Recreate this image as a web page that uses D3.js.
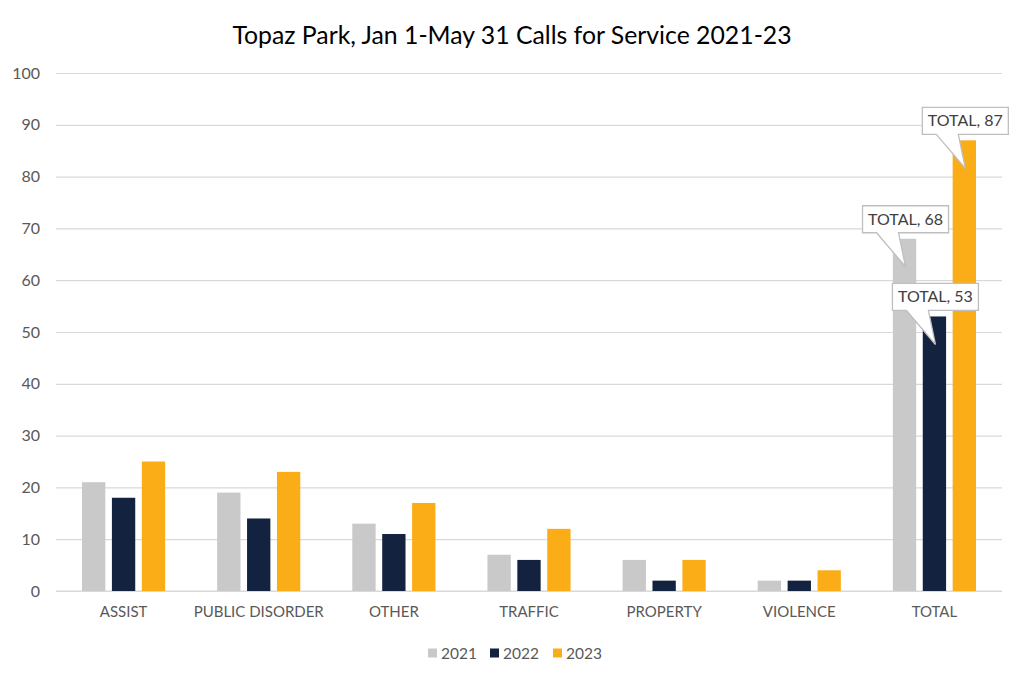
<!DOCTYPE html>
<html>
<head>
<meta charset="utf-8">
<script src="https://cdn.jsdelivr.net/npm/d3@7"></script>
<style>
  body { margin: 0; background: #fff; }
  text { font-family: Lato, "Open Sans", sans-serif; }
</style>
</head>
<body>
<div id="main-container"></div>
<script>
// Data
const CATEGORIES = ['ASSIST', 'PUBLIC DISORDER', 'OTHER', 'TRAFFIC', 'PROPERTY', 'VIOLENCE', 'TOTAL'];
const YEARS = ['2021', '2022', '2023'];
const CALLS_2021 = [21, 19, 13, 7, 6, 2, 68];
const CALLS_2022 = [18, 14, 11, 6, 2, 2, 53];
const CALLS_2023 = [25, 23, 17, 12, 6, 4, 87];
const Y_TICKS = [0, 10, 20, 30, 40, 50, 60, 70, 80, 90, 100];
const CALLOUT_CATEGORY = 'TOTAL';

const SVG_TITLE = 'Topaz Park, Jan 1-May 31 Calls for Service 2021-23';
const WIDTH = 1024;
const HEIGHT = 682;
const MARGIN = { top: 73, right: 22, bottom: 91, left: 56 };
const COLORS = ['#c9c9c9', '#13233f', '#fbad18'];

const series = [CALLS_2021, CALLS_2022, CALLS_2023];
const rows = CATEGORIES.map((c, i) => ({ category: c, values: YEARS.map((y, j) => ({ year: y, value: series[j][i] })) }));

const SVG = d3.select('#main-container').append('svg')
    .attr('width', WIDTH)
    .attr('height', HEIGHT);

// Scales
const x0 = d3.scaleBand()
    .domain(CATEGORIES)
    .range([MARGIN.left, WIDTH - MARGIN.right])
    .paddingInner(0.385)
    .paddingOuter(0.1925);

const x1 = d3.scaleBand()
    .domain(YEARS)
    .range([0, x0.bandwidth()])
    .paddingInner(0.22);

const y = d3.scaleLinear()
    .domain([0, 100])
    .range([HEIGHT - MARGIN.bottom, MARGIN.top]);

const color = d3.scaleOrdinal().domain(YEARS).range(COLORS);

// Title
SVG.append('text')
    .attr('x', WIDTH / 2)
    .attr('y', 44)
    .attr('text-anchor', 'middle')
    .style('font-size', '24.8px')
    .style('fill', '#000')
    .text(SVG_TITLE);

// Gridlines + y labels
const yAxis = d3.axisLeft(y)
    .tickValues(Y_TICKS)
    .tickSize(-(WIDTH - MARGIN.left - MARGIN.right))
    .tickPadding(16);

SVG.append('g')
    .attr('transform', `translate(${MARGIN.left},0)`)
    .call(yAxis)
    .call(g => g.select('.domain').remove())
    .call(g => g.selectAll('.tick line').attr('stroke', '#d9d9d9').attr('stroke-width', 1.2))
    .call(g => g.selectAll('.tick text')
        .style('font-size', '16px')
        .style('fill', '#595959')
        .attr('font-family', null));

// x axis labels
const xAxis = d3.axisBottom(x0).tickSize(0).tickPadding(15);
SVG.append('g')
    .attr('transform', `translate(0,${HEIGHT - MARGIN.bottom})`)
    .call(xAxis)
    .call(g => g.select('.domain').attr('stroke', '#d9d9d9').attr('stroke-width', 1.2)
        .attr('d', `M${MARGIN.left},0H${WIDTH - MARGIN.right}`))
    .call(g => g.selectAll('.tick text')
        .style('font-size', '15px')
        .style('fill', '#595959')
        .attr('font-family', null));

// Bars
const groups = SVG.append('g')
    .selectAll('g')
    .data(rows)
    .enter()
    .append('g')
    .attr('transform', d => `translate(${x0(d.category)},0)`);

groups.selectAll('rect')
    .data(d => d.values)
    .enter()
    .append('rect')
    .attr('x', d => x1(d.year))
    .attr('y', d => y(d.value))
    .attr('width', x1.bandwidth())
    .attr('height', d => y(0) - y(d.value))
    .attr('fill', d => color(d.year));

// Callouts on TOTAL
const calloutRow = rows.find(r => r.category === CALLOUT_CATEGORY);
const callouts = SVG.append('g').attr('class', 'callouts');
calloutRow.values.forEach(d => {
    const cx = x0(calloutRow.category) + x1(d.year) + x1.bandwidth() / 2;
    const top = y(d.value);
    const boxW = 86, boxH = 27;
    const bx = cx - 42;
    const by = top - 6 - boxH;
    const tipY = top + 28;
    const path = `M${bx},${by}H${bx + boxW}V${by + boxH}H${bx + 36}L${cx + 1},${tipY}L${bx + 14},${by + boxH}H${bx}Z`;
    const g = callouts.append('g');
    g.append('path')
        .attr('d', path)
        .attr('fill', '#fff')
        .attr('stroke', '#bfbfbf')
        .attr('stroke-width', 1.3);
    g.append('text')
        .attr('x', bx + boxW / 2)
        .attr('y', by + boxH / 2 + 5.5)
        .attr('text-anchor', 'middle')
        .style('font-size', '16px')
        .style('fill', '#404040')
        .text(`${calloutRow.category}, ${d.value}`);
});

// Legend
const LEGEND = SVG.append('g').attr('id', 'legend');
const legendX = [428, 490, 553];
YEARS.forEach((yr, i) => {
    const g = LEGEND.append('g').attr('transform', `translate(${legendX[i]},653)`);
    g.append('rect')
        .attr('x', 0).attr('y', -4.5)
        .attr('width', 9).attr('height', 9)
        .attr('fill', color(yr));
    g.append('text')
        .attr('x', 13).attr('y', 5.5)
        .style('font-size', '15.5px')
        .style('fill', '#595959')
        .text(yr);
});
</script>
</body>
</html>
